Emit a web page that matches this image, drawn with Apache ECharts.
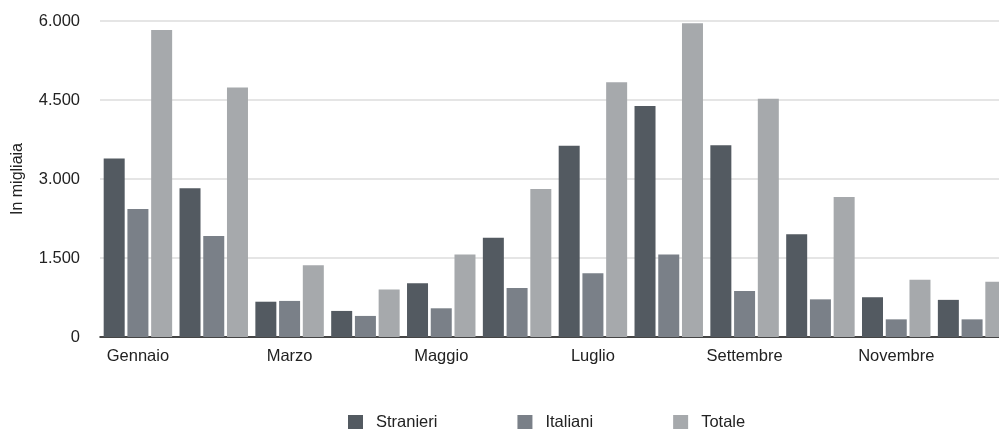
<!DOCTYPE html>
<html>
<head>
<meta charset="utf-8">
<script src="https://cdn.jsdelivr.net/npm/echarts@6/dist/echarts.min.js"></script>
<style>
  html, body { margin: 0; padding: 0; background: #fff; }
  #main { width: 999px; height: 429px; }
</style>
</head>
<body>
<div id="main"></div>
<script>
var mesi = ['Gennaio', 'Febbraio', 'Marzo', 'Aprile', 'Maggio', 'Giugno',
    'Luglio', 'Agosto', 'Settembre', 'Ottobre', 'Novembre', 'Dicembre'];
var stranieri = [3390, 2825, 670, 495, 1020, 1885, 3630, 4385, 3640, 1950, 755, 705];
var italiani = [2430, 1920, 685, 400, 545, 930, 1210, 1565, 875, 715, 335, 335];
var totale = [5830, 4735, 1360, 900, 1565, 2810, 4835, 5955, 4525, 2660, 1085, 1050];

var font = '"Liberation Sans", Arial, sans-serif';

function bar(name, data, color) {
    return {
        name: name,
        type: 'bar',
        data: data,
        barWidth: 21,
        barGap: '13%',
        itemStyle: { color: color }
    };
}

var myChart = echarts.init(document.getElementById('main'));

// asse x più largo della finestra: l'ultimo gruppo è tagliato come nell'originale
var option = {
    animation: false,
    textStyle: { fontFamily: font },
    grid: { left: 100, width: 910, top: 21, height: 316, outerBoundsMode: 'none' },
    legend: {
        top: 414,
        left: 348,
        padding: 0,
        itemWidth: 15,
        itemHeight: 15,
        itemGap: 80,
        icon: 'rect',
        textStyle: { fontSize: 16.5, color: '#222', fontFamily: font, padding: [0, 0, 0, 8] },
        data: ['Stranieri', 'Italiani', 'Totale']
    },
    xAxis: {
        type: 'category',
        data: mesi,
        axisLine: { lineStyle: { color: '#111', width: 1.5 } },
        axisTick: { show: false },
        axisLabel: {
            interval: 1,
            fontSize: 16.5,
            color: '#222',
            margin: 11
        }
    },
    yAxis: {
        type: 'value',
        min: 0,
        max: 6000,
        interval: 1500,
        name: 'In migliaia',
        nameLocation: 'middle',
        nameGap: 74,
        nameRotate: 90,
        nameTextStyle: { fontSize: 16, color: '#222' },
        axisLabel: {
            fontSize: 16.5,
            color: '#222',
            margin: 20,
            formatter: function (v) {
                return v.toLocaleString('it-IT');
            }
        },
        splitLine: { lineStyle: { color: '#dcdcdc', width: 1.5 } }
    },
    series: [
        bar('Stranieri', stranieri, '#535a61'),
        bar('Italiani', italiani, '#7a8088'),
        bar('Totale', totale, '#a6a9ac')
    ]
};

myChart.setOption(option);
</script>
</body>
</html>
